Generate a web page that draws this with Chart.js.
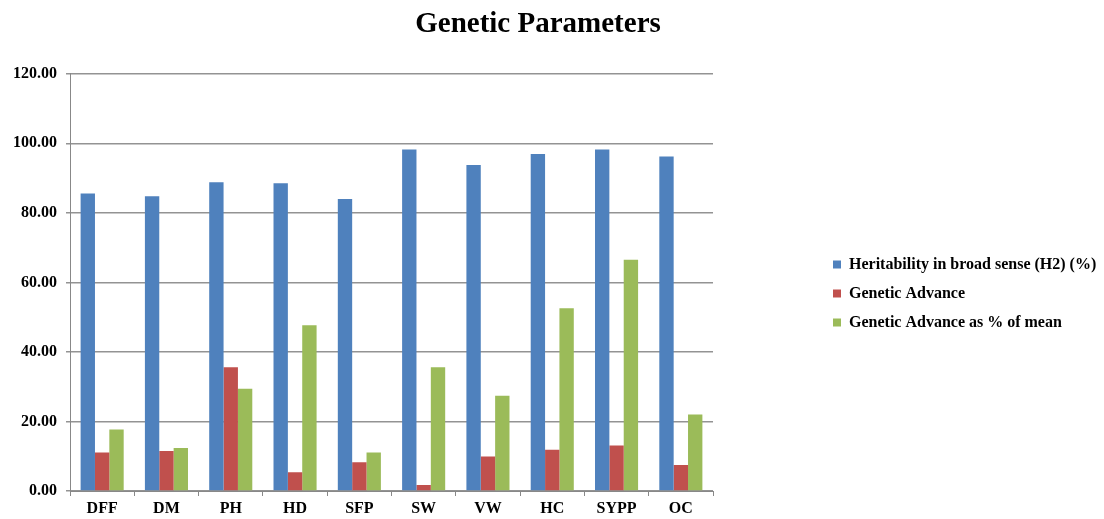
<!DOCTYPE html>
<html lang="en">
<head>
    <meta charset="UTF-8">
    <title>Genetic Parameters</title>
    <script src="https://cdn.jsdelivr.net/npm/chart.js"></script>
    <style>
        body {
            margin: 0;
            padding: 0;
            background: #ffffff;
        }
        #wrap {
            width: 1104px;
            height: 519px;
            position: relative;
        }
    </style>
</head>
<body>
    <div id="wrap"><canvas id="geneticChart"></canvas></div>
    <script>
        const categories = ['DFF', 'DM', 'PH', 'HD', 'SFP', 'SW', 'VW', 'HC', 'SYPP', 'OC'];
        const heritability = [85.6, 84.8, 88.8, 88.5, 84.0, 98.2, 93.8, 96.9, 98.2, 96.2];
        const geneticAdvance = [11.1, 11.5, 35.6, 5.4, 8.3, 1.7, 9.9, 11.9, 13.1, 7.5];
        const gaPercentMean = [17.7, 12.4, 29.4, 47.7, 11.1, 35.6, 27.4, 52.6, 66.5, 22.0];
        const yTicks = [0, 20, 40, 60, 80, 100, 120];

        const serif = 'Liberation Serif, Times New Roman, serif';

        // legend sits far right with a gap after the plot; title sits a bit left of centre
        const legendWidth = 391;
        const legendShift = { x: 107, y: 34 };
        const titleShift = { x: -14, y: 3 };

        function shiftDraw(box, shift) {
            const draw = box.draw;
            box.draw = function () {
                const c = this.ctx;
                c.save();
                c.translate(shift.x, shift.y);
                draw.apply(this, arguments);
                c.restore();
            };
        }

        const boxTweaks = {
            id: 'boxTweaks',
            afterInit(chart) {
                const legend = chart.legend;
                const fit = legend.fit;
                legend.fit = function () {
                    fit.call(this);
                    this.width = legendWidth;
                };
                shiftDraw(legend, legendShift);
                shiftDraw(chart.titleBlock, titleShift);
            }
        };

        const ctx = document.getElementById('geneticChart').getContext('2d');
        new Chart(ctx, {
            type: 'bar',
            data: {
                labels: categories,
                datasets: [{
                    label: 'Heritability in broad sense (H2) (%)',
                    data: heritability,
                    backgroundColor: '#4f81bd'
                }, {
                    label: 'Genetic Advance',
                    data: geneticAdvance,
                    backgroundColor: '#c0504d'
                }, {
                    label: 'Genetic Advance as % of mean',
                    data: gaPercentMean,
                    backgroundColor: '#9bbb59'
                }]
            },
            options: {
                responsive: true,
                maintainAspectRatio: false,
                animation: false,
                datasets: {
                    bar: {
                        barPercentage: 1,
                        categoryPercentage: 0.67
                    }
                },
                layout: { padding: 0 },
                scales: {
                    x: {
                        grid: {
                            offset: true,
                            drawOnChartArea: false,
                            color: '#888888',
                            tickLength: 5
                        },
                        border: { color: '#888888', width: 1 },
                        ticks: {
                            color: '#000000',
                            padding: 3,
                            font: { family: serif, size: 16, weight: 'bold' }
                        },
                        afterFit(scale) { scale.height = 28; }
                    },
                    y: {
                        min: 0,
                        max: 120,
                        afterBuildTicks(scale) {
                            scale.ticks = yTicks.map(v => ({ value: v }));
                        },
                        grid: {
                            color: '#939393',
                            lineWidth: 1.5,
                            tickLength: 4
                        },
                        border: { color: '#888888', width: 1 },
                        ticks: {
                            color: '#000000',
                            padding: 9,
                            font: { family: serif, size: 16, weight: 'bold' },
                            callback: v => Number(v).toFixed(2)
                        },
                        afterFit(scale) { scale.width = 70; }
                    }
                },
                plugins: {
                    title: {
                        display: true,
                        text: 'Genetic Parameters',
                        color: '#000000',
                        font: { family: serif, size: 29, weight: 'bold' },
                        padding: { top: 4, bottom: 35 }
                    },
                    legend: {
                        position: 'right',
                        align: 'center',
                        labels: {
                            boxWidth: 8,
                            boxHeight: 8,
                            padding: 13,
                            color: '#000000',
                            font: { family: serif, size: 16, weight: 'bold' }
                        }
                    },
                    tooltip: { enabled: false }
                }
            },
            plugins: [boxTweaks]
        });
    </script>
</body>
</html>
